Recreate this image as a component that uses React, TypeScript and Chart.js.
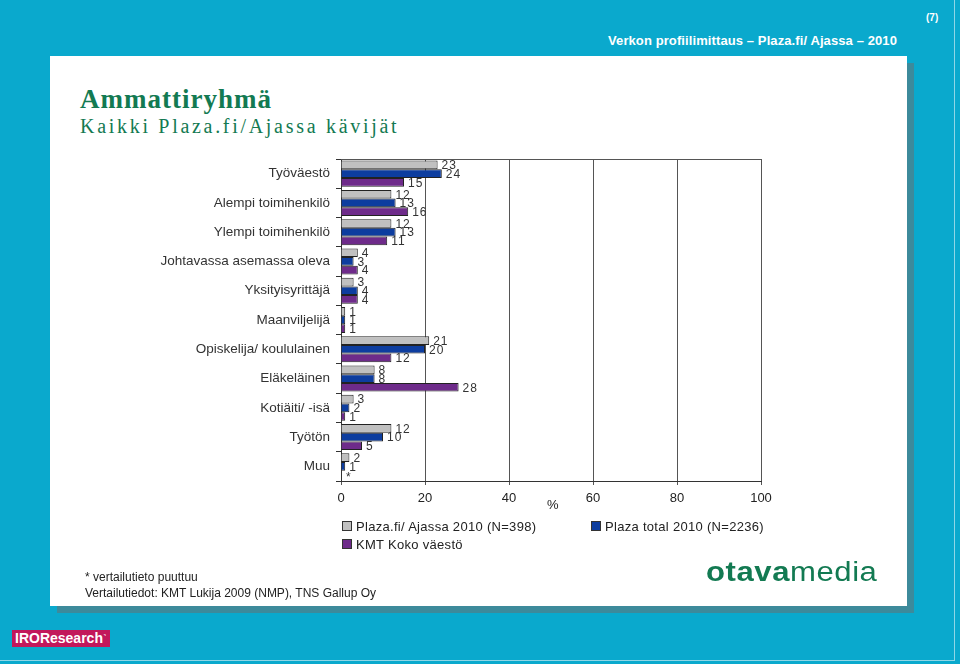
import React, { useEffect, useRef } from "react";
import { Chart, registerables } from "chart.js";

Chart.register(...registerables);

const categories = [
  "Työväestö",
  "Alempi toimihenkilö",
  "Ylempi toimihenkilö",
  "Johtavassa asemassa oleva",
  "Yksityisyrittäjä",
  "Maanviljelijä",
  "Opiskelija/ koululainen",
  "Eläkeläinen",
  "Kotiäiti/ -isä",
  "Työtön",
  "Muu",
];

const plazaAjassa: (number | null)[] = [23, 12, 12, 4, 3, 1, 21, 8, 3, 12, 2];
const plazaTotal: (number | null)[] = [24, 13, 13, 3, 4, 1, 20, 8, 2, 10, 1];
const kmtKoko: (number | null)[] = [15, 16, 11, 4, 4, 1, 12, 28, 1, 5, null];

const seriesNames = [
  "Plaza.fi/ Ajassa 2010 (N=398)",
  "Plaza total 2010 (N=2236)",
  "KMT Koko väestö",
];
const seriesColors = ["#c0c0c0", "#0d3d9f", "#6e2b8a"];
const xTicks = [0, 20, 40, 60, 80, 100];

const FONT = "'Liberation Sans', Arial, sans-serif";

const labelPlugin = {
  id: "barLabels",
  afterDatasetsDraw(chart: any) {
    const ctx = chart.ctx;
    const xs = chart.scales.x;
    ctx.save();
    ctx.font = `12px ${FONT}`;
    ctx.fillStyle = "#333";
    ctx.textBaseline = "middle";
    ctx.textAlign = "left";
    try { (ctx as any).letterSpacing = "1px"; } catch (e) {}
    chart.data.datasets.forEach((ds: any, di: number) => {
      const meta = chart.getDatasetMeta(di);
      meta.data.forEach((el: any, i: number) => {
        const v = ds.data[i];
        const y = el.y;
        if (v === null || v === undefined) {
          ctx.fillText("*", xs.getPixelForValue(0) + 5, y + 3);
        } else {
          ctx.fillText(String(v), el.x + 4, y + 1);
        }
      });
    });
    ctx.restore();
  },
};

const borderPlugin = {
  id: "plotBorder",
  afterDraw(chart: any) {
    const { ctx, chartArea } = chart;
    ctx.save();
    ctx.strokeStyle = "#555";
    ctx.lineWidth = 1;
    ctx.beginPath();
    ctx.moveTo(chartArea.left, chartArea.top + 0.5);
    ctx.lineTo(chartArea.right, chartArea.top + 0.5);
    ctx.stroke();
    ctx.restore();
  },
};

function ChartCanvas() {
  const ref = useRef<HTMLCanvasElement | null>(null);
  useEffect(() => {
    if (!ref.current) return;
    const chart = new Chart(ref.current, {
      type: "bar",
      data: {
        labels: categories,
        datasets: [plazaAjassa, plazaTotal, kmtKoko].map((d, i) => ({
          label: seriesNames[i],
          data: d,
          backgroundColor: seriesColors[i],
          borderColor: "#222",
          borderWidth: 1,
          borderSkipped: "start",
          categoryPercentage: 0.89,
          barPercentage: 1.0,
        })),
      },
      options: {
        indexAxis: "y",
        animation: false,
        responsive: false,
        maintainAspectRatio: false,
        layout: { padding: { left: 0, top: 159, right: 199, bottom: 0 } },
        plugins: { legend: { display: false }, tooltip: { enabled: false } },
        scales: {
          y: {
            type: "category",
            offset: true,
            afterFit: (s: any) => { s.width = 341; },
            grid: { offset: true, drawOnChartArea: false, tickLength: 5, color: "#333" },
            border: { display: true, color: "#333" },
            ticks: { color: "#333", font: { family: FONT, size: 13.5 }, padding: 6 },
          },
          x: {
            min: 0,
            max: 100,
            afterFit: (s: any) => { s.height = 664 - 481; },
            afterBuildTicks: (s: any) => { s.ticks = xTicks.map((v) => ({ value: v })); },
            grid: { color: "#555", tickLength: 4 },
            border: { display: true, color: "#333" },
            ticks: { color: "#222", font: { family: FONT, size: 13 }, padding: 6 },
          },
        },
      },
      plugins: [labelPlugin, borderPlugin],
    } as any);
    return () => chart.destroy();
  }, []);
  return (
    <canvas
      ref={ref}
      width={960}
      height={664}
      style={{ position: "absolute", left: 0, top: 0, width: 960, height: 664 }}
    />
  );
}

export default function App() {
  const legendText: React.CSSProperties = {
    position: "absolute",
    fontFamily: FONT,
    fontSize: 13,
    color: "#222",
    whiteSpace: "nowrap",
    letterSpacing: "0.3px",
  };
  const sq = (c: string): React.CSSProperties => ({
    display: "inline-block",
    width: 8,
    height: 8,
    background: c,
    border: "1px solid #333",
    marginRight: 4,
    verticalAlign: "0px",
  });
  return (
    <div
      style={{
        position: "absolute",
        left: 0,
        top: 0,
        width: 960,
        height: 664,
        background: "#0aa9cd",
        overflow: "hidden",
        fontFamily: FONT,
      }}
    >
      <div style={{ position: "absolute", left: 0, top: 0, width: 954, height: 660, borderRight: "1px solid #8fd6e6", borderBottom: "1px solid #8fd6e6" }} />
      <div style={{ position: "absolute", left: 926, top: 12, color: "#fff", fontSize: 10, fontWeight: "bold" }}>(7)</div>
      <div
        style={{
          position: "absolute",
          right: 960 - 897,
          top: 33,
          color: "#fff",
          fontSize: 13,
          fontWeight: "bold",
          whiteSpace: "nowrap",
          letterSpacing: "0.1px",
        }}
      >
        Verkon profiilimittaus – Plaza.fi/ Ajassa – 2010
      </div>
      <div
        style={{
          position: "absolute",
          left: 50,
          top: 56,
          width: 857,
          height: 550,
          background: "#fff",
          boxShadow: "7px 7px 0 #3d8a9b",
        }}
      />
      <div
        style={{
          position: "absolute",
          left: 80,
          top: 84,
          color: "#137a52",
          fontFamily: "'Liberation Serif', 'DejaVu Serif', serif",
          fontWeight: "bold",
          fontSize: 27,
          letterSpacing: "1px",
          whiteSpace: "nowrap",
        }}
      >
        Ammattiryhmä
      </div>
      <div
        style={{
          position: "absolute",
          left: 80,
          top: 115,
          color: "#137a52",
          fontFamily: "'Liberation Serif', 'DejaVu Serif', serif",
          fontSize: 20,
          letterSpacing: "2.7px",
          whiteSpace: "nowrap",
        }}
      >
        Kaikki Plaza.fi/Ajassa kävijät
      </div>
      <ChartCanvas />
      <div style={{ ...legendText, left: 547, top: 497, fontSize: 13 }}>%</div>
      <div style={{ ...legendText, left: 342, top: 519 }}>
        <span style={sq(seriesColors[0])} />
        {seriesNames[0]}
      </div>
      <div style={{ ...legendText, left: 591, top: 519 }}>
        <span style={sq(seriesColors[1])} />
        {seriesNames[1]}
      </div>
      <div style={{ ...legendText, left: 342, top: 537 }}>
        <span style={sq(seriesColors[2])} />
        {seriesNames[2]}
      </div>
      <div style={{ position: "absolute", left: 85, top: 570, fontSize: 12, color: "#222", whiteSpace: "nowrap" }}>
        * vertailutieto puuttuu
      </div>
      <div style={{ position: "absolute", left: 85, top: 586, fontSize: 12, color: "#222", whiteSpace: "nowrap" }}>
        Vertailutiedot: KMT Lukija 2009 (NMP), TNS Gallup Oy
      </div>
      <div
        style={{
          position: "absolute",
          left: 706,
          top: 557,
          color: "#137a52",
          fontSize: 27,
          whiteSpace: "nowrap",
          letterSpacing: "0.5px",
          transform: "scaleX(1.15)",
          transformOrigin: "left center",
        }}
      >
        <span style={{ fontWeight: "bold" }}>otava</span>
        <span>media</span>
      </div>
      <div
        style={{
          position: "absolute",
          left: 12,
          top: 630,
          width: 98,
          height: 17,
          background: "#c2185b",
          color: "#fff",
          fontWeight: "bold",
          fontSize: 14,
          lineHeight: "17px",
          paddingLeft: 3,
          boxSizing: "border-box",
          whiteSpace: "nowrap",
        }}
      >
        IROResearch<span style={{ fontSize: 10, verticalAlign: "top" }}>˺</span>
      </div>
    </div>
  );
}
